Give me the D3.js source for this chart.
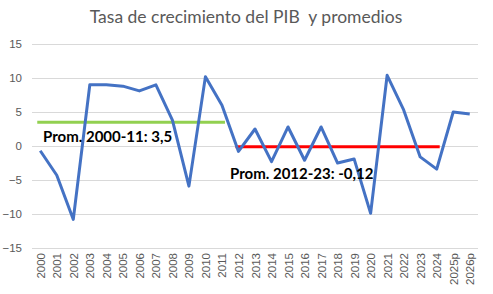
<!DOCTYPE html>
<html><head><meta charset="utf-8">
<script src="https://cdn.jsdelivr.net/npm/d3@7"></script>
<style>body{margin:0;background:#fff}svg{display:block}</style>
</head><body>
<svg id="c" width="493" height="294"></svg>
<script>
const categories = ["2000","2001","2002","2003","2004","2005","2006","2007","2008","2009","2010","2011","2012","2013","2014","2015","2016","2017","2018","2019","2020","2021","2022","2023","2024","2025p","2026p"];
const growth = [-0.7,-4.3,-10.8,9.0,9.0,8.8,8.1,9.0,3.8,-5.9,10.2,6.0,-0.8,2.5,-2.3,2.8,-2.1,2.8,-2.5,-1.9,-9.9,10.4,5.3,-1.6,-3.4,5.0,4.7];
const yTicks = [-15,-10,-5,0,5,10,15];
const avg1 = {from:"2000", to:"2011", value:3.5, label:"Prom. 2000-11: 3,5"};
const avg2 = {from:"2012", to:"2024", value:-0.12, label:"Prom. 2012-23: -0,12"};

const svg = d3.select("#c");
const L = 32, R = 478, T = 44, B = 248;
const x = d3.scalePoint().domain(categories).range([L, R]).padding(0.5);
const y = d3.scaleLinear().domain([-15, 15]).range([B, T]);

svg.append("text").attr("x", 246).attr("y", 23).attr("text-anchor","middle")
  .style("white-space","pre")
  .attr("font-family","Lato, 'Open Sans', sans-serif").attr("font-size", 17.5).attr("fill","#595959")
  .text("Tasa de crecimiento del PIB  y promedios");

// gridlines
svg.append("g").selectAll("line").data(yTicks).join("line")
  .attr("x1", L).attr("x2", R).attr("y1", d=>y(d)).attr("y2", d=>y(d))
  .attr("stroke","#d9d9d9").attr("stroke-width",1).attr("shape-rendering","crispEdges");

// y axis labels
const ya = svg.append("g").attr("transform",`translate(${L},0)`)
  .call(d3.axisLeft(y).tickValues(yTicks).tickSize(0).tickPadding(10));
ya.select(".domain").remove();
ya.selectAll("text").attr("font-family","'Liberation Sans', Arial, sans-serif").attr("font-size",11.5).attr("fill","#595959");

// x axis labels
const xa = svg.append("g").attr("transform",`translate(0,${B})`)
  .call(d3.axisBottom(x).tickSize(0).tickPadding(0));
xa.select(".domain").remove();
xa.selectAll("text").attr("font-family","'Liberation Sans', Arial, sans-serif").attr("font-size",11.5).attr("fill","#595959")
  .attr("transform","rotate(-90)").attr("text-anchor","end").attr("dx","-5").attr("dy","0.35em").attr("y",0).attr("x",0);

// averages
function avgLine(a, color){
  svg.append("line").attr("x1", x(a.from)-3).attr("x2", x(a.to)+3)
    .attr("y1", y(a.value)).attr("y2", y(a.value))
    .attr("stroke", color).attr("stroke-width", 3);
}
avgLine(avg1, "#92d050");
avgLine(avg2, "#ff0000");

// series line
svg.append("path").datum(growth)
  .attr("d", d3.line().x((d,i)=>x(categories[i])).y(d=>y(d)))
  .attr("fill","none").attr("stroke","#4472c4").attr("stroke-width",3).attr("stroke-linejoin","round");

// annotations
svg.append("text").attr("x", 43).attr("y", 142)
  .attr("font-family","Lato, 'Open Sans', sans-serif").attr("font-weight","bold").attr("font-size",15).attr("fill","#000")
  .text(avg1.label);
svg.append("text").attr("x", 230).attr("y", 179)
  .attr("font-family","Lato, 'Open Sans', sans-serif").attr("font-weight","bold").attr("font-size",15).attr("fill","#000")
  .text(avg2.label);
</script>
</body></html>
